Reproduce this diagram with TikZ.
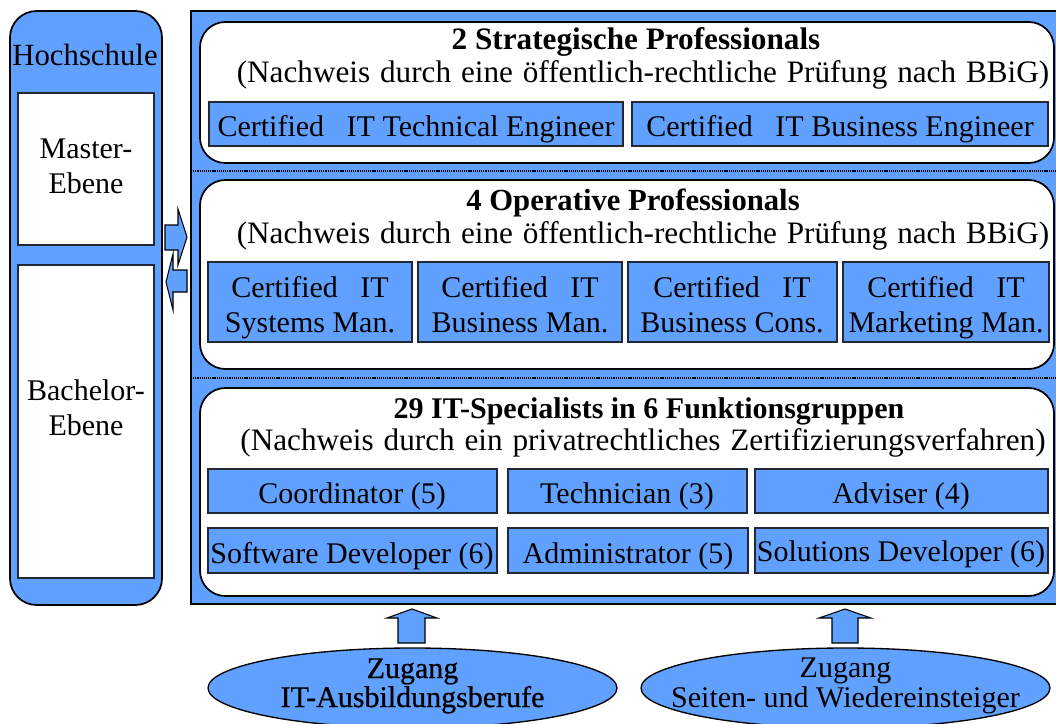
\documentclass[tikz,border=0pt]{standalone}
\usepackage{fontspec}
\setmainfont{Liberation Serif}
\newfontfamily\heavyfont[FakeBold=0.7]{Liberation Serif}
\usetikzlibrary{fit,shapes.geometric}
\definecolor{fillblue}{RGB}{96,160,255}
\definecolor{boxline}{RGB}{35,40,55}
\newcommand\mysubfont{\fontsize{23.4}{26}\selectfont\spaceskip 7.4pt plus 1pt\relax}
\begin{document}
\begin{tikzpicture}[x=0.75pt,y=-0.75pt,
  font=\fontsize{22.5}{25}\selectfont,
  txt/.style={anchor=base, inner sep=0pt, outer sep=0pt},
  ttl/.style={txt, font=\fontsize{22.5}{25}\selectfont\bfseries},
  sub/.style={txt, font=\mysubfont},
  frame/.style={draw=black, line width=1.3pt, fill=fillblue},
  panel/.style={draw=black, line width=1.3pt, fill=white, rounded corners=19pt},
  cbox/.style={draw=boxline, line width=0.8pt, fill=fillblue, inner sep=0pt, outer sep=0pt},
  wbox/.style={draw=boxline, line width=0.8pt, fill=white, inner sep=0pt, outer sep=0pt},
  dotline/.style={draw=black, line width=1.3pt, dash pattern=on 0.9pt off 0.7pt},
  blockarrow/.style={draw=black, line width=0.8pt, fill=fillblue, line join=miter},
  zell/.style={ellipse, draw=black, line width=1pt, fill=fillblue, inner sep=0pt,
               minimum width=306.75pt, minimum height=60pt}
]
\useasboundingbox (0,0) rectangle (1056,724);
\clip (0,0) rectangle (1056,724);

% ---------- left column ----------
\draw[frame, rounded corners=20pt] (10,11) rectangle (162,605);
\node[txt, font=\fontsize{23.1}{25}\selectfont] (hs) at (85,65) {Hochschule};
\node[wbox, fit={(18,93) (154,245)}] (master) {};
\node[txt] (m1) at (86,158) {Master-};
\node[txt] (m2) at (86,193) {Ebene};
\node[wbox, fit={(18,265) (154,578)}] (bachelor) {};
\node[txt] (b1) at (86,400) {Bachelor-};
\node[txt] (b2) at (86,435) {Ebene};

% ---------- main frame ----------
\draw[frame] (191,11) rectangle (1070,604);
\draw[dotline] (191,171) -- (1070,171);
\draw[dotline] (191,378) -- (1070,378);

% panel 1
\draw[panel] (200,22) rectangle (1054,163);
\node[ttl, font=\fontsize{23.4}{26}\selectfont\bfseries] (t1) at (636,50) {2 Strategische Professionals};
\node[sub] (s1) at (643,83) {(Nachweis durch eine öffentlich-rechtliche Prüfung nach BBiG)};
\node[cbox, fit={(209,102) (623,146)}] (tech) {};
\node[txt] at (416,136) {Certified\ \ \ IT Technical Engineer};
\node[cbox, fit={(632,102) (1048,146)}] (busi) {};
\node[txt] at (840,136) {Certified\ \ \ IT Business Engineer};

% panel 2
\draw[panel] (200,180) rectangle (1054,369);
\node[ttl, font=\fontsize{23}{26}\selectfont\bfseries] (t2) at (633,210) {4 Operative Professionals};
\node[sub] (s2) at (643,243) {(Nachweis durch eine öffentlich-rechtliche Prüfung nach BBiG)};
\node[cbox, fit={(208,262) (412,342)}] (sys) {};
\node[txt] at (310,297) {Certified\ \ \ IT};
\node[txt] at (310,332) {Systems Man.};
\node[cbox, fit={(418,262) (622,342)}] (bman) {};
\node[txt] at (520,297) {Certified\ \ \ IT};
\node[txt] at (520,332) {Business Man.};
\node[cbox, fit={(628,262) (837,342)}] (bcons) {};
\node[txt] at (732,297) {Certified\ \ \ IT};
\node[txt] at (732,332) {Business Cons.};
\node[cbox, fit={(843,262) (1049,342)}] (mark) {};
\node[txt] at (946,297) {Certified\ \ \ IT};
\node[txt] at (946,332) {Marketing Man.};

% panel 3
\draw[panel] (200,388) rectangle (1054,596);
\node[ttl] (t3) at (649,418) {29 IT-Specialists in 6 Funktionsgruppen};
\node[sub] (s3) at (643,450) {(Nachweis durch ein privatrechtliches Zertifizierungsverfahren)};
\node[cbox, fit={(208,469) (497,513)}] (coord) {};
\node[txt] at (352,503) {Coordinator (5)};
\node[cbox, fit={(508,469) (747,513)}] (techn) {};
\node[txt] at (627,503) {Technician (3)};
\node[cbox, fit={(755,469) (1048,513)}] (adv) {};
\node[txt] at (901,503) {Adviser (4)};
\node[cbox, fit={(208,528) (497,573)}] (sdev) {};
\node[txt] at (352,563) {Software Developer (6)};
\node[cbox, fit={(508,528) (748,573)}] (admin) {};
\node[txt] at (628,563) {Administrator (5)};
\node[cbox, fit={(755,528) (1048,573)}] (soldev) {};
\node[txt] at (901,561) {Solutions Developer (6)};

% ---------- left block arrows ----------
\draw[blockarrow] (165,225) -- (178,225) -- (178,209) -- (187,237) -- (178,265) -- (178,250) -- (165,250) -- cycle;
\draw[blockarrow] (187,270) -- (173,270) -- (173,254) -- (166,282) -- (173,310) -- (173,292) -- (187,292) -- cycle;

% ---------- bottom ellipses ----------
\node[zell] (zug1) at (412.5,688) {};
\node[txt, font=\fontsize{22.5}{25}\heavyfont] at (412.5,678) {Zugang};
\node[txt, font=\fontsize{22.5}{25}\heavyfont] at (412.5,707) {IT-Ausbildungsberufe};
\node[zell] (zug2) at (845.5,688) {};
\node[txt] at (845.5,677) {Zugang};
\node[txt] at (845.5,707) {Seiten- und Wiedereinsteiger};

% ---------- up block arrows ----------
\draw[blockarrow] (398,643) -- (398,618) -- (387,618) -- (412,609) -- (437,618) -- (425,618) -- (425,643) -- cycle;
\draw[blockarrow] (832,643) -- (832,618) -- (819,618) -- (845,609) -- (871,618) -- (858,618) -- (858,643) -- cycle;
\end{tikzpicture}
\end{document}
